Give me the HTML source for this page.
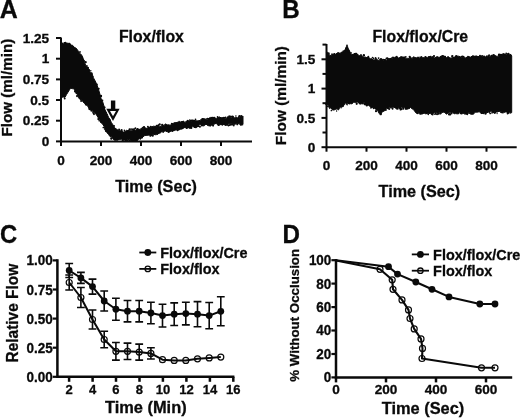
<!DOCTYPE html>
<html><head><meta charset="utf-8"><title>Figure</title>
<style>html,body{margin:0;padding:0;background:#fff}svg{display:block}text{font-family:'Liberation Sans',sans-serif;font-weight:bold;fill:#0a0a0a;stroke:#0a0a0a;stroke-width:0.3px}</style>
</head><body>
<svg width="520" height="418" viewBox="0 0 520 418">
<rect width="520" height="418" fill="#fff"/>
<text transform="translate(-0.2 17.8) scale(0.990 1)" font-size="25.2" text-anchor="start">A</text>
<text transform="translate(282.3 17.6) scale(0.960 1)" font-size="25.2" text-anchor="start">B</text>
<text transform="translate(0.0 242.9) scale(0.940 1)" font-size="25.3" text-anchor="start">C</text>
<text transform="translate(282.4 243.3) scale(0.960 1)" font-size="25.2" text-anchor="start">D</text>
<g stroke="#0a0a0a" stroke-width="2" fill="none">
<path d="M61.0 37.4 V141.4 H252.0"/>
<path d="M56.0 141.4 H61.0"/>
<path d="M56.0 120.7 H61.0"/>
<path d="M56.0 100.0 H61.0"/>
<path d="M56.0 79.4 H61.0"/>
<path d="M56.0 58.7 H61.0"/>
<path d="M56.0 38.0 H61.0"/>
<path d="M61.0 141.4 V145.9"/>
<path d="M101.0 141.4 V145.9"/>
<path d="M141.0 141.4 V145.9"/>
<path d="M181.0 141.4 V145.9"/>
<path d="M221.0 141.4 V145.9"/>
</g>
<text x="49.2" y="145.9" font-size="13.6" text-anchor="end">0</text>
<text x="49.2" y="125.2" font-size="13.6" text-anchor="end">0.25</text>
<text x="49.2" y="104.5" font-size="13.6" text-anchor="end">0.5</text>
<text x="49.2" y="83.9" font-size="13.6" text-anchor="end">0.75</text>
<text x="49.2" y="63.2" font-size="13.6" text-anchor="end">1</text>
<text x="49.2" y="42.5" font-size="13.6" text-anchor="end">1.25</text>
<text x="61.0" y="164.6" font-size="13.6" text-anchor="middle">0</text>
<text x="101.0" y="164.6" font-size="13.6" text-anchor="middle">200</text>
<text x="141.0" y="164.6" font-size="13.6" text-anchor="middle">400</text>
<text x="181.0" y="164.6" font-size="13.6" text-anchor="middle">600</text>
<text x="221.0" y="164.6" font-size="13.6" text-anchor="middle">800</text>
<text x="156.0" y="191.8" font-size="16.2" text-anchor="middle">Time (Sec)</text>
<text x="151.4" y="42.3" font-size="15.8" text-anchor="middle">Flox/flox</text>
<text x="12.2" y="87.6" font-size="15.2" text-anchor="middle" transform="rotate(-90 12.2 87.6)">Flow (ml/min)</text>
<polygon points="60.5,46.0 62.0,44.1 63.5,44.1 65.0,42.4 66.5,43.0 68.0,43.3 69.5,43.4 71.0,45.1 72.5,45.2 74.0,47.2 75.5,47.7 77.0,49.2 78.5,51.4 80.0,53.8 81.5,54.7 83.0,58.1 84.5,62.2 86.0,66.2 87.5,67.7 89.0,69.6 90.5,73.1 92.0,73.3 93.5,78.4 95.0,80.6 96.5,83.8 98.0,87.8 99.5,92.7 101.0,98.3 102.5,101.2 104.0,106.1 105.5,110.3 107.0,113.5 108.5,117.2 110.0,119.4 111.5,122.7 113.0,124.9 114.5,127.6 116.0,128.8 117.5,129.7 119.0,130.6 120.5,130.7 122.0,130.7 123.5,132.1 125.0,131.6 126.5,130.3 128.0,130.8 129.5,130.4 131.0,130.9 132.5,130.4 134.0,129.2 135.5,130.6 137.0,128.5 138.5,129.0 140.0,129.5 141.5,128.0 143.0,128.5 144.5,127.2 146.0,128.3 147.5,128.3 149.0,127.6 150.5,128.0 152.0,126.4 153.5,127.0 155.0,126.5 156.5,126.3 158.0,125.8 159.5,126.4 161.0,126.4 162.5,125.2 164.0,125.4 165.5,123.8 167.0,125.0 168.5,124.7 170.0,125.2 171.5,124.6 173.0,123.2 174.5,123.2 176.0,123.6 177.5,122.0 179.0,122.8 180.5,121.9 182.0,121.6 183.5,121.2 185.0,122.5 186.5,120.9 188.0,120.9 189.5,121.0 191.0,121.8 192.5,119.9 194.0,120.5 195.5,120.5 197.0,121.0 198.5,120.6 200.0,120.5 201.5,118.9 203.0,119.0 204.5,118.7 206.0,119.7 207.5,119.8 209.0,117.9 210.5,117.9 212.0,117.9 213.5,117.8 215.0,118.3 216.5,118.4 218.0,117.6 219.5,116.9 221.0,117.8 222.5,117.6 224.0,117.9 225.5,118.7 227.0,118.0 228.5,117.5 230.0,117.6 231.5,117.7 233.0,116.2 234.5,117.9 236.0,117.6 237.5,117.7 239.0,117.4 240.5,116.5 242.0,116.6 243.0,116.0 243.0,124.2 242.0,124.0 240.5,125.2 239.0,123.5 237.5,124.1 236.0,123.8 234.5,124.5 233.0,123.7 231.5,123.8 230.0,123.8 228.5,123.7 227.0,125.0 225.5,125.1 224.0,124.2 222.5,125.3 221.0,124.5 219.5,124.8 218.0,125.5 216.5,123.4 215.0,123.7 213.5,124.7 212.0,124.3 210.5,125.0 209.0,125.8 207.5,125.5 206.0,124.0 204.5,125.6 203.0,126.0 201.5,124.6 200.0,124.8 198.5,125.1 197.0,126.6 195.5,127.3 194.0,126.3 192.5,126.6 191.0,128.1 189.5,127.9 188.0,127.2 186.5,128.4 185.0,127.3 183.5,128.2 182.0,129.0 180.5,129.3 179.0,129.9 177.5,129.7 176.0,128.7 174.5,130.6 173.0,130.5 171.5,130.5 170.0,131.5 168.5,132.0 167.0,131.7 165.5,131.0 164.0,131.3 162.5,131.7 161.0,132.0 159.5,132.6 158.0,134.2 156.5,134.6 155.0,134.8 153.5,134.1 152.0,135.6 150.5,135.5 149.0,135.0 147.5,135.4 146.0,135.3 144.5,135.7 143.0,136.8 141.5,137.7 140.0,137.7 138.5,139.4 137.0,140.2 135.5,140.8 134.0,141.0 132.5,141.2 131.0,140.8 129.5,139.4 128.0,139.6 126.5,140.5 125.0,139.9 123.5,140.4 122.0,139.1 120.5,139.5 119.0,139.3 117.5,140.1 116.0,140.2 114.5,140.2 113.0,138.9 111.5,136.7 110.0,136.6 108.5,134.4 107.0,132.7 105.5,130.9 104.0,126.3 102.5,123.9 101.0,122.7 99.5,119.4 98.0,117.4 96.5,114.9 95.0,113.1 93.5,112.3 92.0,110.6 90.5,110.2 89.0,108.6 87.5,105.7 86.0,105.0 84.5,103.5 83.0,101.8 81.5,100.0 80.0,99.5 78.5,97.7 77.0,93.6 75.5,91.8 74.0,88.8 72.5,88.7 71.0,88.2 69.5,89.7 68.0,92.2 66.5,94.6 65.0,97.3 63.5,97.1 62.0,97.2 60.5,98.6" fill="#0a0a0a" stroke="#0a0a0a" stroke-width="1" stroke-linejoin="round"/>
<path d="M61.8 43.9m-0.95 0a0.95 0.95 0 1 0 1.90 0a0.95 0.95 0 1 0 -1.90 0M62.6 43.4m-0.79 0a0.79 0.79 0 1 0 1.58 0a0.79 0.79 0 1 0 -1.58 0M64.5 43.0m-1.06 0a1.06 1.06 0 1 0 2.13 0a1.06 1.06 0 1 0 -2.13 0M64.7 98.6m-0.98 0a0.98 0.98 0 1 0 1.96 0a0.98 0.98 0 1 0 -1.96 0M65.5 42.5m-0.82 0a0.82 0.82 0 1 0 1.65 0a0.82 0.82 0 1 0 -1.65 0M69.6 43.7m-0.95 0a0.95 0.95 0 1 0 1.91 0a0.95 0.95 0 1 0 -1.91 0M75.1 91.3m-1.17 0a1.17 1.17 0 1 0 2.34 0a1.17 1.17 0 1 0 -2.34 0M75.7 49.2m-0.92 0a0.92 0.92 0 1 0 1.84 0a0.92 0.92 0 1 0 -1.84 0M76.4 93.1m-1.03 0a1.03 1.03 0 1 0 2.07 0a1.03 1.03 0 1 0 -2.07 0M77.0 96.1m-1.03 0a1.03 1.03 0 1 0 2.06 0a1.03 1.03 0 1 0 -2.06 0M80.0 51.9m-0.90 0a0.90 0.90 0 1 0 1.80 0a0.90 0.90 0 1 0 -1.80 0M81.1 101.0m-0.96 0a0.96 0.96 0 1 0 1.92 0a0.96 0.96 0 1 0 -1.92 0M82.1 57.6m-1.06 0a1.06 1.06 0 1 0 2.12 0a1.06 1.06 0 1 0 -2.12 0M84.0 60.8m-0.87 0a0.87 0.87 0 1 0 1.73 0a0.87 0.87 0 1 0 -1.73 0M85.7 62.2m-1.09 0a1.09 1.09 0 1 0 2.19 0a1.09 1.09 0 1 0 -2.19 0M85.5 104.7m-0.72 0a0.72 0.72 0 1 0 1.44 0a0.72 0.72 0 1 0 -1.44 0M86.9 66.0m-0.91 0a0.91 0.91 0 1 0 1.82 0a0.91 0.91 0 1 0 -1.82 0M87.9 68.0m-1.16 0a1.16 1.16 0 1 0 2.32 0a1.16 1.16 0 1 0 -2.32 0M89.0 70.1m-1.04 0a1.04 1.04 0 1 0 2.09 0a1.04 1.04 0 1 0 -2.09 0M89.4 109.1m-1.02 0a1.02 1.02 0 1 0 2.03 0a1.02 1.02 0 1 0 -2.03 0M90.8 70.8m-0.73 0a0.73 0.73 0 1 0 1.47 0a0.73 0.73 0 1 0 -1.47 0M91.5 73.3m-1.16 0a1.16 1.16 0 1 0 2.33 0a1.16 1.16 0 1 0 -2.33 0M91.3 110.9m-0.82 0a0.82 0.82 0 1 0 1.64 0a0.82 0.82 0 1 0 -1.64 0M92.8 76.5m-0.80 0a0.80 0.80 0 1 0 1.60 0a0.80 0.80 0 1 0 -1.60 0M93.0 112.7m-0.84 0a0.84 0.84 0 1 0 1.69 0a0.84 0.84 0 1 0 -1.69 0M94.1 79.1m-0.71 0a0.71 0.71 0 1 0 1.42 0a0.71 0.71 0 1 0 -1.42 0M94.0 114.1m-0.98 0a0.98 0.98 0 1 0 1.95 0a0.98 0.98 0 1 0 -1.95 0M96.9 84.4m-0.92 0a0.92 0.92 0 1 0 1.83 0a0.92 0.92 0 1 0 -1.83 0M98.7 88.7m-1.04 0a1.04 1.04 0 1 0 2.09 0a1.04 1.04 0 1 0 -2.09 0M98.3 119.1m-1.05 0a1.05 1.05 0 1 0 2.11 0a1.05 1.05 0 1 0 -2.11 0M99.1 92.8m-0.73 0a0.73 0.73 0 1 0 1.45 0a0.73 0.73 0 1 0 -1.45 0M99.2 120.8m-0.83 0a0.83 0.83 0 1 0 1.66 0a0.83 0.83 0 1 0 -1.66 0M101.0 96.0m-1.14 0a1.14 1.14 0 1 0 2.27 0a1.14 1.14 0 1 0 -2.27 0M100.8 121.9m-0.85 0a0.85 0.85 0 1 0 1.69 0a0.85 0.85 0 1 0 -1.69 0M102.6 100.3m-0.83 0a0.83 0.83 0 1 0 1.66 0a0.83 0.83 0 1 0 -1.66 0M103.3 127.5m-0.85 0a0.85 0.85 0 1 0 1.71 0a0.85 0.85 0 1 0 -1.71 0M104.7 107.5m-0.94 0a0.94 0.94 0 1 0 1.87 0a0.94 0.94 0 1 0 -1.87 0M104.5 129.1m-0.70 0a0.70 0.70 0 1 0 1.40 0a0.70 0.70 0 1 0 -1.40 0M105.5 111.0m-0.72 0a0.72 0.72 0 1 0 1.44 0a0.72 0.72 0 1 0 -1.44 0M106.0 131.0m-0.99 0a0.99 0.99 0 1 0 1.99 0a0.99 0.99 0 1 0 -1.99 0M109.5 119.9m-1.19 0a1.19 1.19 0 1 0 2.38 0a1.19 1.19 0 1 0 -2.38 0M111.3 138.6m-1.15 0a1.15 1.15 0 1 0 2.29 0a1.15 1.15 0 1 0 -2.29 0M114.1 125.9m-0.95 0a0.95 0.95 0 1 0 1.90 0a0.95 0.95 0 1 0 -1.90 0M117.6 139.6m-0.77 0a0.77 0.77 0 1 0 1.53 0a0.77 0.77 0 1 0 -1.53 0M119.1 129.4m-0.98 0a0.98 0.98 0 1 0 1.96 0a0.98 0.98 0 1 0 -1.96 0M121.6 130.1m-1.07 0a1.07 1.07 0 1 0 2.15 0a1.07 1.07 0 1 0 -2.15 0M122.5 140.7m-0.83 0a0.83 0.83 0 1 0 1.65 0a0.83 0.83 0 1 0 -1.65 0M124.4 130.4m-0.80 0a0.80 0.80 0 1 0 1.61 0a0.80 0.80 0 1 0 -1.61 0M125.8 140.3m-1.04 0a1.04 1.04 0 1 0 2.08 0a1.04 1.04 0 1 0 -2.08 0M128.3 130.6m-0.83 0a0.83 0.83 0 1 0 1.65 0a0.83 0.83 0 1 0 -1.65 0M127.7 140.6m-0.71 0a0.71 0.71 0 1 0 1.41 0a0.71 0.71 0 1 0 -1.41 0M129.6 129.5m-1.05 0a1.05 1.05 0 1 0 2.09 0a1.05 1.05 0 1 0 -2.09 0M129.4 140.6m-0.93 0a0.93 0.93 0 1 0 1.86 0a0.93 0.93 0 1 0 -1.86 0M131.2 129.0m-0.80 0a0.80 0.80 0 1 0 1.60 0a0.80 0.80 0 1 0 -1.60 0M132.5 129.5m-1.11 0a1.11 1.11 0 1 0 2.22 0a1.11 1.11 0 1 0 -2.22 0M132.4 140.4m-0.80 0a0.80 0.80 0 1 0 1.61 0a0.80 0.80 0 1 0 -1.61 0M133.3 129.1m-0.77 0a0.77 0.77 0 1 0 1.54 0a0.77 0.77 0 1 0 -1.54 0M135.0 128.6m-0.95 0a0.95 0.95 0 1 0 1.91 0a0.95 0.95 0 1 0 -1.91 0M135.4 128.3m-0.94 0a0.94 0.94 0 1 0 1.89 0a0.94 0.94 0 1 0 -1.89 0M135.7 140.5m-0.93 0a0.93 0.93 0 1 0 1.85 0a0.93 0.93 0 1 0 -1.85 0M137.5 129.0m-0.86 0a0.86 0.86 0 1 0 1.72 0a0.86 0.86 0 1 0 -1.72 0M136.8 140.3m-1.12 0a1.12 1.12 0 1 0 2.24 0a1.12 1.12 0 1 0 -2.24 0M140.3 138.7m-0.90 0a0.90 0.90 0 1 0 1.79 0a0.90 0.90 0 1 0 -1.79 0M140.6 138.3m-0.84 0a0.84 0.84 0 1 0 1.68 0a0.84 0.84 0 1 0 -1.68 0M142.8 127.6m-0.84 0a0.84 0.84 0 1 0 1.69 0a0.84 0.84 0 1 0 -1.69 0M142.1 137.5m-0.96 0a0.96 0.96 0 1 0 1.91 0a0.96 0.96 0 1 0 -1.91 0M144.0 127.2m-1.14 0a1.14 1.14 0 1 0 2.28 0a1.14 1.14 0 1 0 -2.28 0M147.9 126.8m-0.93 0a0.93 0.93 0 1 0 1.85 0a0.93 0.93 0 1 0 -1.85 0M148.5 127.6m-1.16 0a1.16 1.16 0 1 0 2.33 0a1.16 1.16 0 1 0 -2.33 0M150.7 126.9m-1.07 0a1.07 1.07 0 1 0 2.14 0a1.07 1.07 0 1 0 -2.14 0M150.3 135.9m-0.85 0a0.85 0.85 0 1 0 1.70 0a0.85 0.85 0 1 0 -1.70 0M151.2 126.9m-0.78 0a0.78 0.78 0 1 0 1.56 0a0.78 0.78 0 1 0 -1.56 0M152.7 135.6m-1.20 0a1.20 1.20 0 1 0 2.40 0a1.20 1.20 0 1 0 -2.40 0M153.9 126.4m-0.75 0a0.75 0.75 0 1 0 1.49 0a0.75 0.75 0 1 0 -1.49 0M154.2 134.2m-0.83 0a0.83 0.83 0 1 0 1.66 0a0.83 0.83 0 1 0 -1.66 0M156.6 125.6m-0.96 0a0.96 0.96 0 1 0 1.92 0a0.96 0.96 0 1 0 -1.92 0M157.2 133.4m-0.84 0a0.84 0.84 0 1 0 1.68 0a0.84 0.84 0 1 0 -1.68 0M158.4 125.3m-1.01 0a1.01 1.01 0 1 0 2.03 0a1.01 1.01 0 1 0 -2.03 0M157.9 133.4m-0.82 0a0.82 0.82 0 1 0 1.65 0a0.82 0.82 0 1 0 -1.65 0M159.7 124.4m-1.12 0a1.12 1.12 0 1 0 2.25 0a1.12 1.12 0 1 0 -2.25 0M159.7 132.8m-1.05 0a1.05 1.05 0 1 0 2.11 0a1.05 1.05 0 1 0 -2.11 0M162.2 124.9m-1.16 0a1.16 1.16 0 1 0 2.33 0a1.16 1.16 0 1 0 -2.33 0M163.2 132.1m-0.78 0a0.78 0.78 0 1 0 1.55 0a0.78 0.78 0 1 0 -1.55 0M168.8 132.1m-0.82 0a0.82 0.82 0 1 0 1.63 0a0.82 0.82 0 1 0 -1.63 0M169.8 130.9m-0.83 0a0.83 0.83 0 1 0 1.65 0a0.83 0.83 0 1 0 -1.65 0M171.1 130.5m-0.96 0a0.96 0.96 0 1 0 1.92 0a0.96 0.96 0 1 0 -1.92 0M171.8 123.7m-1.00 0a1.00 1.00 0 1 0 2.00 0a1.00 1.00 0 1 0 -2.00 0M172.4 130.8m-1.18 0a1.18 1.18 0 1 0 2.36 0a1.18 1.18 0 1 0 -2.36 0M175.1 123.3m-1.18 0a1.18 1.18 0 1 0 2.36 0a1.18 1.18 0 1 0 -2.36 0M175.1 129.7m-0.95 0a0.95 0.95 0 1 0 1.90 0a0.95 0.95 0 1 0 -1.90 0M176.6 123.1m-1.03 0a1.03 1.03 0 1 0 2.07 0a1.03 1.03 0 1 0 -2.07 0M176.1 129.4m-0.87 0a0.87 0.87 0 1 0 1.74 0a0.87 0.87 0 1 0 -1.74 0M177.5 130.3m-1.07 0a1.07 1.07 0 1 0 2.14 0a1.07 1.07 0 1 0 -2.14 0M179.1 121.6m-0.86 0a0.86 0.86 0 1 0 1.71 0a0.86 0.86 0 1 0 -1.71 0M178.6 129.2m-1.08 0a1.08 1.08 0 1 0 2.16 0a1.08 1.08 0 1 0 -2.16 0M181.6 122.4m-0.91 0a0.91 0.91 0 1 0 1.82 0a0.91 0.91 0 1 0 -1.82 0M183.2 121.9m-0.81 0a0.81 0.81 0 1 0 1.61 0a0.81 0.81 0 1 0 -1.61 0M182.6 128.2m-0.73 0a0.73 0.73 0 1 0 1.46 0a0.73 0.73 0 1 0 -1.46 0M186.8 127.8m-1.17 0a1.17 1.17 0 1 0 2.34 0a1.17 1.17 0 1 0 -2.34 0M187.8 120.7m-0.89 0a0.89 0.89 0 1 0 1.78 0a0.89 0.89 0 1 0 -1.78 0M187.7 127.6m-0.70 0a0.70 0.70 0 1 0 1.40 0a0.70 0.70 0 1 0 -1.40 0M189.7 120.1m-0.76 0a0.76 0.76 0 1 0 1.52 0a0.76 0.76 0 1 0 -1.52 0M189.5 127.7m-1.11 0a1.11 1.11 0 1 0 2.22 0a1.11 1.11 0 1 0 -2.22 0M190.4 121.2m-0.94 0a0.94 0.94 0 1 0 1.87 0a0.94 0.94 0 1 0 -1.87 0M191.3 120.6m-1.15 0a1.15 1.15 0 1 0 2.30 0a1.15 1.15 0 1 0 -2.30 0M191.3 127.9m-1.08 0a1.08 1.08 0 1 0 2.17 0a1.08 1.08 0 1 0 -2.17 0M192.9 120.8m-1.16 0a1.16 1.16 0 1 0 2.32 0a1.16 1.16 0 1 0 -2.32 0M194.5 126.7m-1.18 0a1.18 1.18 0 1 0 2.36 0a1.18 1.18 0 1 0 -2.36 0M195.5 119.4m-0.86 0a0.86 0.86 0 1 0 1.72 0a0.86 0.86 0 1 0 -1.72 0M195.8 127.2m-1.16 0a1.16 1.16 0 1 0 2.32 0a1.16 1.16 0 1 0 -2.32 0M197.5 126.2m-0.94 0a0.94 0.94 0 1 0 1.88 0a0.94 0.94 0 1 0 -1.88 0M198.3 126.0m-0.91 0a0.91 0.91 0 1 0 1.83 0a0.91 0.91 0 1 0 -1.83 0M199.9 126.7m-1.07 0a1.07 1.07 0 1 0 2.14 0a1.07 1.07 0 1 0 -2.14 0M202.5 119.0m-0.88 0a0.88 0.88 0 1 0 1.76 0a0.88 0.88 0 1 0 -1.76 0M201.9 125.3m-1.08 0a1.08 1.08 0 1 0 2.15 0a1.08 1.08 0 1 0 -2.15 0M203.3 119.3m-0.98 0a0.98 0.98 0 1 0 1.95 0a0.98 0.98 0 1 0 -1.95 0M206.1 118.9m-0.75 0a0.75 0.75 0 1 0 1.50 0a0.75 0.75 0 1 0 -1.50 0M207.5 118.6m-0.91 0a0.91 0.91 0 1 0 1.82 0a0.91 0.91 0 1 0 -1.82 0M210.1 125.7m-0.85 0a0.85 0.85 0 1 0 1.69 0a0.85 0.85 0 1 0 -1.69 0M211.0 117.6m-0.80 0a0.80 0.80 0 1 0 1.60 0a0.80 0.80 0 1 0 -1.60 0M211.4 124.7m-1.14 0a1.14 1.14 0 1 0 2.28 0a1.14 1.14 0 1 0 -2.28 0M212.6 118.0m-1.20 0a1.20 1.20 0 1 0 2.39 0a1.20 1.20 0 1 0 -2.39 0M213.1 125.6m-1.03 0a1.03 1.03 0 1 0 2.05 0a1.03 1.03 0 1 0 -2.05 0M214.2 117.9m-1.11 0a1.11 1.11 0 1 0 2.22 0a1.11 1.11 0 1 0 -2.22 0M214.9 118.0m-0.76 0a0.76 0.76 0 1 0 1.52 0a0.76 0.76 0 1 0 -1.52 0M217.6 117.0m-0.92 0a0.92 0.92 0 1 0 1.85 0a0.92 0.92 0 1 0 -1.85 0M218.8 125.1m-1.01 0a1.01 1.01 0 1 0 2.02 0a1.01 1.01 0 1 0 -2.02 0M220.2 118.0m-0.80 0a0.80 0.80 0 1 0 1.60 0a0.80 0.80 0 1 0 -1.60 0M221.9 124.2m-0.86 0a0.86 0.86 0 1 0 1.73 0a0.86 0.86 0 1 0 -1.73 0M223.3 117.6m-0.80 0a0.80 0.80 0 1 0 1.60 0a0.80 0.80 0 1 0 -1.60 0M224.4 117.8m-0.90 0a0.90 0.90 0 1 0 1.80 0a0.90 0.90 0 1 0 -1.80 0M225.5 117.6m-1.05 0a1.05 1.05 0 1 0 2.10 0a1.05 1.05 0 1 0 -2.10 0M225.4 124.6m-1.18 0a1.18 1.18 0 1 0 2.35 0a1.18 1.18 0 1 0 -2.35 0M227.4 124.7m-1.13 0a1.13 1.13 0 1 0 2.26 0a1.13 1.13 0 1 0 -2.26 0M227.9 117.4m-1.06 0a1.06 1.06 0 1 0 2.13 0a1.06 1.06 0 1 0 -2.13 0M228.5 125.5m-0.91 0a0.91 0.91 0 1 0 1.82 0a0.91 0.91 0 1 0 -1.82 0M229.2 116.3m-0.93 0a0.93 0.93 0 1 0 1.86 0a0.93 0.93 0 1 0 -1.86 0M229.9 124.9m-1.02 0a1.02 1.02 0 1 0 2.04 0a1.02 1.02 0 1 0 -2.04 0M230.8 116.6m-0.89 0a0.89 0.89 0 1 0 1.77 0a0.89 0.89 0 1 0 -1.77 0M231.2 124.5m-0.96 0a0.96 0.96 0 1 0 1.92 0a0.96 0.96 0 1 0 -1.92 0M232.6 116.7m-1.10 0a1.10 1.10 0 1 0 2.20 0a1.10 1.10 0 1 0 -2.20 0M232.6 124.3m-1.17 0a1.17 1.17 0 1 0 2.34 0a1.17 1.17 0 1 0 -2.34 0M233.8 125.5m-0.89 0a0.89 0.89 0 1 0 1.79 0a0.89 0.89 0 1 0 -1.79 0M235.9 116.0m-0.81 0a0.81 0.81 0 1 0 1.62 0a0.81 0.81 0 1 0 -1.62 0M237.3 124.4m-0.90 0a0.90 0.90 0 1 0 1.80 0a0.90 0.90 0 1 0 -1.80 0M238.8 116.8m-0.82 0a0.82 0.82 0 1 0 1.65 0a0.82 0.82 0 1 0 -1.65 0M239.4 116.1m-1.08 0a1.08 1.08 0 1 0 2.16 0a1.08 1.08 0 1 0 -2.16 0M241.3 116.1m-0.98 0a0.98 0.98 0 1 0 1.95 0a0.98 0.98 0 1 0 -1.95 0M241.1 124.7m-0.99 0a0.99 0.99 0 1 0 1.98 0a0.99 0.99 0 1 0 -1.98 0M242.6 124.8m-0.71 0a0.71 0.71 0 1 0 1.42 0a0.71 0.71 0 1 0 -1.42 0" fill="#0a0a0a"/>
<path d="M106.3 108.7 H119.6 L113 120.9 Z" fill="#fff" stroke="#fff" stroke-width="2.2" stroke-linejoin="round"/>
<rect x="110.9" y="100.5" width="4.4" height="9" fill="#0a0a0a"/>
<path d="M106.3 108.7 H119.6 L113 120.9 Z" fill="#0a0a0a"/>
<path d="M110 110.9 H116 L113 116.2 Z" fill="#fff"/>
<g stroke="#0a0a0a" stroke-width="2" fill="none">
<path d="M326.5 44.1 V147.2 H516.7"/>
<path d="M321.5 147.2 H326.5"/>
<path d="M322.5 132.5 H326.5"/>
<path d="M321.5 117.9 H326.5"/>
<path d="M322.5 103.2 H326.5"/>
<path d="M321.5 88.6 H326.5"/>
<path d="M322.5 73.9 H326.5"/>
<path d="M321.5 59.3 H326.5"/>
<path d="M322.5 44.6 H326.5"/>
<path d="M326.5 147.2 V151.7"/>
<path d="M366.5 147.2 V151.7"/>
<path d="M406.5 147.2 V151.7"/>
<path d="M446.5 147.2 V151.7"/>
<path d="M486.5 147.2 V151.7"/>
</g>
<text x="315.3" y="152.0" font-size="13.6" text-anchor="end">0</text>
<text x="315.3" y="122.7" font-size="13.6" text-anchor="end">0.5</text>
<text x="315.3" y="93.4" font-size="13.6" text-anchor="end">1</text>
<text x="315.3" y="64.1" font-size="13.6" text-anchor="end">1.5</text>
<text x="326.5" y="169.5" font-size="13.6" text-anchor="middle">0</text>
<text x="366.5" y="169.5" font-size="13.6" text-anchor="middle">200</text>
<text x="406.5" y="169.5" font-size="13.6" text-anchor="middle">400</text>
<text x="446.5" y="169.5" font-size="13.6" text-anchor="middle">600</text>
<text x="486.5" y="169.5" font-size="13.6" text-anchor="middle">800</text>
<text x="419.4" y="197.4" font-size="16.2" text-anchor="middle">Time (Sec)</text>
<text x="420.3" y="42.4" font-size="15.8" text-anchor="middle">Flox/flox/Cre</text>
<text x="286.1" y="95.6" font-size="15.4" text-anchor="middle" transform="rotate(-90 286.1 95.6)">Flow (ml/min)</text>
<polygon points="326.5,52.9 328.0,53.1 329.5,55.2 331.0,55.5 332.5,54.5 334.0,53.7 335.5,54.3 337.0,53.3 338.5,53.2 340.0,53.7 341.5,52.0 343.0,52.0 344.5,51.2 346.0,47.3 347.5,47.5 349.0,49.9 350.5,53.0 352.0,54.6 353.5,54.1 355.0,53.2 356.5,54.5 358.0,54.4 359.5,55.9 361.0,54.3 362.5,56.5 364.0,57.3 365.5,57.1 367.0,57.8 368.5,56.8 370.0,59.1 371.5,58.4 373.0,60.0 374.5,60.0 376.0,58.3 377.5,60.0 379.0,60.4 380.5,58.5 382.0,59.3 383.5,60.4 385.0,59.1 386.5,60.6 388.0,58.8 389.5,59.8 391.0,57.8 392.5,58.4 394.0,59.1 395.5,57.2 397.0,57.3 398.5,57.9 400.0,57.5 401.5,56.8 403.0,57.1 404.5,57.1 406.0,58.9 407.5,58.3 409.0,58.8 410.5,57.1 412.0,58.5 413.5,56.7 415.0,57.6 416.5,57.8 418.0,57.0 419.5,58.2 421.0,57.3 422.5,57.3 424.0,57.9 425.5,56.0 427.0,58.1 428.5,57.2 430.0,56.6 431.5,57.6 433.0,56.3 434.5,58.1 436.0,57.1 437.5,56.6 439.0,57.5 440.5,56.8 442.0,56.2 443.5,57.6 445.0,55.9 446.5,57.8 448.0,56.5 449.5,57.5 451.0,58.3 452.5,57.4 454.0,57.6 455.5,56.8 457.0,56.1 458.5,56.2 460.0,56.6 461.5,57.6 463.0,57.2 464.5,57.3 466.0,58.2 467.5,56.3 469.0,56.5 470.5,57.5 472.0,56.0 473.5,55.9 475.0,56.7 476.5,56.0 478.0,56.6 479.5,56.3 481.0,57.0 482.5,56.9 484.0,55.9 485.5,56.8 487.0,56.4 488.5,55.5 490.0,57.3 491.5,55.5 493.0,55.2 494.5,55.0 496.0,56.1 497.5,56.4 499.0,56.0 500.5,54.8 502.0,54.3 503.5,53.5 505.0,54.7 506.5,54.4 508.0,53.7 509.5,54.4 511.0,54.5 511.7,55.9 511.7,112.6 511.0,113.1 509.5,112.3 508.0,113.4 506.5,111.9 505.0,112.0 503.5,112.8 502.0,111.8 500.5,111.7 499.0,111.2 497.5,112.1 496.0,111.9 494.5,111.6 493.0,112.9 491.5,111.3 490.0,111.3 488.5,111.9 487.0,112.8 485.5,113.3 484.0,112.9 482.5,113.4 481.0,113.6 479.5,111.7 478.0,112.0 476.5,112.3 475.0,112.1 473.5,114.2 472.0,114.2 470.5,114.2 469.0,112.3 467.5,114.2 466.0,114.1 464.5,114.1 463.0,113.0 461.5,113.5 460.0,112.3 458.5,113.9 457.0,113.8 455.5,113.6 454.0,113.8 452.5,112.2 451.0,112.2 449.5,112.4 448.0,112.9 446.5,114.3 445.0,112.4 443.5,112.2 442.0,112.4 440.5,114.3 439.0,112.3 437.5,113.6 436.0,112.6 434.5,112.8 433.0,113.5 431.5,113.8 430.0,113.1 428.5,114.1 427.0,113.6 425.5,113.8 424.0,112.8 422.5,113.9 421.0,113.1 419.5,113.1 418.0,112.8 416.5,113.4 415.0,111.7 413.5,109.6 412.0,108.7 410.5,107.4 409.0,108.5 407.5,109.1 406.0,108.6 404.5,107.5 403.0,107.6 401.5,107.1 400.0,109.2 398.5,107.5 397.0,109.1 395.5,108.2 394.0,107.1 392.5,107.6 391.0,108.1 389.5,107.4 388.0,108.3 386.5,108.2 385.0,110.0 383.5,110.9 382.0,112.4 380.5,115.1 379.0,113.2 377.5,110.3 376.0,109.7 374.5,108.2 373.0,107.4 371.5,106.9 370.0,106.7 368.5,105.2 367.0,105.0 365.5,104.4 364.0,102.1 362.5,103.7 361.0,103.8 359.5,104.0 358.0,101.9 356.5,102.4 355.0,102.3 353.5,102.2 352.0,103.9 350.5,103.6 349.0,103.4 347.5,103.8 346.0,103.0 344.5,103.4 343.0,106.6 341.5,106.9 340.0,106.9 338.5,110.0 337.0,108.8 335.5,109.4 334.0,110.0 332.5,110.0 331.0,107.7 329.5,108.6 328.0,105.1 326.5,103.9" fill="#0a0a0a" stroke="#0a0a0a" stroke-width="1" stroke-linejoin="round"/>
<path d="M326.8 52.5m-0.92 0a0.92 0.92 0 1 0 1.84 0a0.92 0.92 0 1 0 -1.84 0M326.2 104.2m-0.97 0a0.97 0.97 0 1 0 1.94 0a0.97 0.97 0 1 0 -1.94 0M327.3 106.4m-0.79 0a0.79 0.79 0 1 0 1.57 0a0.79 0.79 0 1 0 -1.57 0M328.6 53.4m-1.19 0a1.19 1.19 0 1 0 2.38 0a1.19 1.19 0 1 0 -2.38 0M332.0 54.2m-0.87 0a0.87 0.87 0 1 0 1.75 0a0.87 0.87 0 1 0 -1.75 0M331.4 110.5m-0.84 0a0.84 0.84 0 1 0 1.68 0a0.84 0.84 0 1 0 -1.68 0M334.6 53.7m-0.74 0a0.74 0.74 0 1 0 1.48 0a0.74 0.74 0 1 0 -1.48 0M337.3 53.8m-0.90 0a0.90 0.90 0 1 0 1.79 0a0.90 0.90 0 1 0 -1.79 0M336.6 111.0m-0.71 0a0.71 0.71 0 1 0 1.43 0a0.71 0.71 0 1 0 -1.43 0M338.1 52.9m-0.95 0a0.95 0.95 0 1 0 1.90 0a0.95 0.95 0 1 0 -1.90 0M339.8 53.5m-0.97 0a0.97 0.97 0 1 0 1.93 0a0.97 0.97 0 1 0 -1.93 0M341.1 107.7m-0.78 0a0.78 0.78 0 1 0 1.56 0a0.78 0.78 0 1 0 -1.56 0M343.5 51.4m-1.09 0a1.09 1.09 0 1 0 2.17 0a1.09 1.09 0 1 0 -2.17 0M343.1 105.7m-1.14 0a1.14 1.14 0 1 0 2.29 0a1.14 1.14 0 1 0 -2.29 0M345.0 50.8m-1.05 0a1.05 1.05 0 1 0 2.10 0a1.05 1.05 0 1 0 -2.10 0M344.5 104.1m-0.82 0a0.82 0.82 0 1 0 1.65 0a0.82 0.82 0 1 0 -1.65 0M346.5 104.0m-0.79 0a0.79 0.79 0 1 0 1.59 0a0.79 0.79 0 1 0 -1.59 0M347.2 104.8m-0.75 0a0.75 0.75 0 1 0 1.50 0a0.75 0.75 0 1 0 -1.50 0M349.5 103.4m-1.02 0a1.02 1.02 0 1 0 2.04 0a1.02 1.02 0 1 0 -2.04 0M351.1 52.7m-0.72 0a0.72 0.72 0 1 0 1.43 0a0.72 0.72 0 1 0 -1.43 0M355.3 53.6m-0.90 0a0.90 0.90 0 1 0 1.80 0a0.90 0.90 0 1 0 -1.80 0M356.3 53.8m-1.07 0a1.07 1.07 0 1 0 2.15 0a1.07 1.07 0 1 0 -2.15 0M356.7 103.8m-1.14 0a1.14 1.14 0 1 0 2.28 0a1.14 1.14 0 1 0 -2.28 0M360.2 103.8m-0.75 0a0.75 0.75 0 1 0 1.50 0a0.75 0.75 0 1 0 -1.50 0M363.0 103.6m-0.93 0a0.93 0.93 0 1 0 1.86 0a0.93 0.93 0 1 0 -1.86 0M363.9 55.4m-1.17 0a1.17 1.17 0 1 0 2.33 0a1.17 1.17 0 1 0 -2.33 0M365.0 104.1m-1.19 0a1.19 1.19 0 1 0 2.37 0a1.19 1.19 0 1 0 -2.37 0M366.8 105.3m-1.17 0a1.17 1.17 0 1 0 2.34 0a1.17 1.17 0 1 0 -2.34 0M368.3 56.7m-0.97 0a0.97 0.97 0 1 0 1.94 0a0.97 0.97 0 1 0 -1.94 0M370.9 107.8m-0.81 0a0.81 0.81 0 1 0 1.61 0a0.81 0.81 0 1 0 -1.61 0M372.5 57.6m-0.76 0a0.76 0.76 0 1 0 1.52 0a0.76 0.76 0 1 0 -1.52 0M371.9 107.2m-0.84 0a0.84 0.84 0 1 0 1.67 0a0.84 0.84 0 1 0 -1.67 0M373.5 58.5m-0.91 0a0.91 0.91 0 1 0 1.82 0a0.91 0.91 0 1 0 -1.82 0M373.5 108.5m-0.81 0a0.81 0.81 0 1 0 1.62 0a0.81 0.81 0 1 0 -1.62 0M375.6 58.1m-0.90 0a0.90 0.90 0 1 0 1.79 0a0.90 0.90 0 1 0 -1.79 0M376.0 111.2m-1.10 0a1.10 1.10 0 1 0 2.21 0a1.10 1.10 0 1 0 -2.21 0M378.6 58.1m-0.88 0a0.88 0.88 0 1 0 1.75 0a0.88 0.88 0 1 0 -1.75 0M381.4 59.0m-0.76 0a0.76 0.76 0 1 0 1.53 0a0.76 0.76 0 1 0 -1.53 0M381.0 114.5m-0.83 0a0.83 0.83 0 1 0 1.67 0a0.83 0.83 0 1 0 -1.67 0M381.9 59.2m-0.79 0a0.79 0.79 0 1 0 1.59 0a0.79 0.79 0 1 0 -1.59 0M383.7 59.6m-0.85 0a0.85 0.85 0 1 0 1.70 0a0.85 0.85 0 1 0 -1.70 0M383.6 110.8m-1.03 0a1.03 1.03 0 1 0 2.06 0a1.03 1.03 0 1 0 -2.06 0M386.6 58.6m-1.15 0a1.15 1.15 0 1 0 2.31 0a1.15 1.15 0 1 0 -2.31 0M385.8 109.9m-1.02 0a1.02 1.02 0 1 0 2.03 0a1.02 1.02 0 1 0 -2.03 0M387.4 58.2m-1.03 0a1.03 1.03 0 1 0 2.06 0a1.03 1.03 0 1 0 -2.06 0M387.9 108.3m-0.82 0a0.82 0.82 0 1 0 1.63 0a0.82 0.82 0 1 0 -1.63 0M389.2 59.1m-1.15 0a1.15 1.15 0 1 0 2.30 0a1.15 1.15 0 1 0 -2.30 0M389.2 108.9m-1.00 0a1.00 1.00 0 1 0 2.01 0a1.00 1.00 0 1 0 -2.01 0M393.0 57.5m-0.97 0a0.97 0.97 0 1 0 1.93 0a0.97 0.97 0 1 0 -1.93 0M392.6 108.7m-0.98 0a0.98 0.98 0 1 0 1.96 0a0.98 0.98 0 1 0 -1.96 0M393.7 58.1m-0.95 0a0.95 0.95 0 1 0 1.89 0a0.95 0.95 0 1 0 -1.89 0M395.4 57.4m-0.95 0a0.95 0.95 0 1 0 1.90 0a0.95 0.95 0 1 0 -1.90 0M396.8 56.8m-0.93 0a0.93 0.93 0 1 0 1.87 0a0.93 0.93 0 1 0 -1.87 0M397.6 108.5m-1.18 0a1.18 1.18 0 1 0 2.36 0a1.18 1.18 0 1 0 -2.36 0M401.0 57.2m-1.04 0a1.04 1.04 0 1 0 2.08 0a1.04 1.04 0 1 0 -2.08 0M400.6 109.5m-0.96 0a0.96 0.96 0 1 0 1.91 0a0.96 0.96 0 1 0 -1.91 0M401.7 109.1m-1.01 0a1.01 1.01 0 1 0 2.03 0a1.01 1.01 0 1 0 -2.03 0M403.5 108.7m-0.96 0a0.96 0.96 0 1 0 1.93 0a0.96 0.96 0 1 0 -1.93 0M404.6 57.4m-0.91 0a0.91 0.91 0 1 0 1.82 0a0.91 0.91 0 1 0 -1.82 0M405.8 56.9m-0.90 0a0.90 0.90 0 1 0 1.80 0a0.90 0.90 0 1 0 -1.80 0M406.0 108.6m-1.19 0a1.19 1.19 0 1 0 2.37 0a1.19 1.19 0 1 0 -2.37 0M407.2 108.3m-0.85 0a0.85 0.85 0 1 0 1.70 0a0.85 0.85 0 1 0 -1.70 0M409.7 57.0m-1.14 0a1.14 1.14 0 1 0 2.29 0a1.14 1.14 0 1 0 -2.29 0M409.4 108.1m-0.70 0a0.70 0.70 0 1 0 1.41 0a0.70 0.70 0 1 0 -1.41 0M417.8 113.3m-0.93 0a0.93 0.93 0 1 0 1.86 0a0.93 0.93 0 1 0 -1.86 0M419.1 57.2m-0.72 0a0.72 0.72 0 1 0 1.44 0a0.72 0.72 0 1 0 -1.44 0M420.2 113.7m-1.09 0a1.09 1.09 0 1 0 2.19 0a1.09 1.09 0 1 0 -2.19 0M421.2 56.9m-0.91 0a0.91 0.91 0 1 0 1.82 0a0.91 0.91 0 1 0 -1.82 0M421.0 113.5m-1.17 0a1.17 1.17 0 1 0 2.33 0a1.17 1.17 0 1 0 -2.33 0M422.8 112.8m-1.11 0a1.11 1.11 0 1 0 2.21 0a1.11 1.11 0 1 0 -2.21 0M424.1 112.7m-0.89 0a0.89 0.89 0 1 0 1.79 0a0.89 0.89 0 1 0 -1.79 0M426.3 113.0m-1.02 0a1.02 1.02 0 1 0 2.04 0a1.02 1.02 0 1 0 -2.04 0M428.1 57.1m-0.70 0a0.70 0.70 0 1 0 1.40 0a0.70 0.70 0 1 0 -1.40 0M428.3 114.4m-0.74 0a0.74 0.74 0 1 0 1.49 0a0.74 0.74 0 1 0 -1.49 0M428.9 57.1m-1.06 0a1.06 1.06 0 1 0 2.12 0a1.06 1.06 0 1 0 -2.12 0M430.7 57.0m-1.09 0a1.09 1.09 0 1 0 2.17 0a1.09 1.09 0 1 0 -2.17 0M431.8 114.0m-1.05 0a1.05 1.05 0 1 0 2.11 0a1.05 1.05 0 1 0 -2.11 0M432.6 114.5m-1.06 0a1.06 1.06 0 1 0 2.12 0a1.06 1.06 0 1 0 -2.12 0M434.0 56.1m-1.11 0a1.11 1.11 0 1 0 2.22 0a1.11 1.11 0 1 0 -2.22 0M434.8 114.2m-0.78 0a0.78 0.78 0 1 0 1.57 0a0.78 0.78 0 1 0 -1.57 0M435.6 113.7m-0.99 0a0.99 0.99 0 1 0 1.97 0a0.99 0.99 0 1 0 -1.97 0M437.1 114.3m-0.88 0a0.88 0.88 0 1 0 1.76 0a0.88 0.88 0 1 0 -1.76 0M438.7 113.7m-1.09 0a1.09 1.09 0 1 0 2.19 0a1.09 1.09 0 1 0 -2.19 0M441.1 57.0m-1.19 0a1.19 1.19 0 1 0 2.37 0a1.19 1.19 0 1 0 -2.37 0M442.5 56.2m-1.19 0a1.19 1.19 0 1 0 2.38 0a1.19 1.19 0 1 0 -2.38 0M443.4 56.5m-1.14 0a1.14 1.14 0 1 0 2.29 0a1.14 1.14 0 1 0 -2.29 0M446.0 113.1m-0.83 0a0.83 0.83 0 1 0 1.66 0a0.83 0.83 0 1 0 -1.66 0M449.1 114.3m-1.11 0a1.11 1.11 0 1 0 2.21 0a1.11 1.11 0 1 0 -2.21 0M450.2 114.4m-1.10 0a1.10 1.10 0 1 0 2.21 0a1.10 1.10 0 1 0 -2.21 0M451.6 113.2m-0.98 0a0.98 0.98 0 1 0 1.95 0a0.98 0.98 0 1 0 -1.95 0M452.3 56.3m-1.17 0a1.17 1.17 0 1 0 2.33 0a1.17 1.17 0 1 0 -2.33 0M455.5 57.1m-1.08 0a1.08 1.08 0 1 0 2.15 0a1.08 1.08 0 1 0 -2.15 0M456.2 56.3m-1.09 0a1.09 1.09 0 1 0 2.17 0a1.09 1.09 0 1 0 -2.17 0M460.6 113.4m-0.79 0a0.79 0.79 0 1 0 1.58 0a0.79 0.79 0 1 0 -1.58 0M461.7 56.7m-0.90 0a0.90 0.90 0 1 0 1.80 0a0.90 0.90 0 1 0 -1.80 0M461.6 113.2m-1.20 0a1.20 1.20 0 1 0 2.40 0a1.20 1.20 0 1 0 -2.40 0M462.7 56.6m-1.09 0a1.09 1.09 0 1 0 2.19 0a1.09 1.09 0 1 0 -2.19 0M463.8 56.7m-0.71 0a0.71 0.71 0 1 0 1.42 0a0.71 0.71 0 1 0 -1.42 0M467.3 114.3m-0.91 0a0.91 0.91 0 1 0 1.83 0a0.91 0.91 0 1 0 -1.83 0M469.2 113.2m-0.80 0a0.80 0.80 0 1 0 1.60 0a0.80 0.80 0 1 0 -1.60 0M471.2 57.3m-0.98 0a0.98 0.98 0 1 0 1.96 0a0.98 0.98 0 1 0 -1.96 0M473.0 56.4m-0.90 0a0.90 0.90 0 1 0 1.80 0a0.90 0.90 0 1 0 -1.80 0M475.2 56.4m-1.02 0a1.02 1.02 0 1 0 2.04 0a1.02 1.02 0 1 0 -2.04 0M476.5 56.5m-0.78 0a0.78 0.78 0 1 0 1.56 0a0.78 0.78 0 1 0 -1.56 0M477.2 57.1m-0.83 0a0.83 0.83 0 1 0 1.66 0a0.83 0.83 0 1 0 -1.66 0M480.0 55.9m-1.05 0a1.05 1.05 0 1 0 2.11 0a1.05 1.05 0 1 0 -2.11 0M481.6 56.8m-1.08 0a1.08 1.08 0 1 0 2.15 0a1.08 1.08 0 1 0 -2.15 0M482.1 56.0m-1.08 0a1.08 1.08 0 1 0 2.16 0a1.08 1.08 0 1 0 -2.16 0M482.5 112.9m-0.76 0a0.76 0.76 0 1 0 1.52 0a0.76 0.76 0 1 0 -1.52 0M484.0 56.5m-0.77 0a0.77 0.77 0 1 0 1.54 0a0.77 0.77 0 1 0 -1.54 0M483.3 113.5m-0.80 0a0.80 0.80 0 1 0 1.60 0a0.80 0.80 0 1 0 -1.60 0M485.5 113.7m-1.13 0a1.13 1.13 0 1 0 2.27 0a1.13 1.13 0 1 0 -2.27 0M486.8 56.0m-0.75 0a0.75 0.75 0 1 0 1.50 0a0.75 0.75 0 1 0 -1.50 0M489.1 55.3m-0.94 0a0.94 0.94 0 1 0 1.88 0a0.94 0.94 0 1 0 -1.88 0M489.2 112.5m-0.73 0a0.73 0.73 0 1 0 1.46 0a0.73 0.73 0 1 0 -1.46 0M490.2 113.4m-0.83 0a0.83 0.83 0 1 0 1.67 0a0.83 0.83 0 1 0 -1.67 0M491.4 55.9m-1.12 0a1.12 1.12 0 1 0 2.24 0a1.12 1.12 0 1 0 -2.24 0M492.0 112.8m-0.86 0a0.86 0.86 0 1 0 1.72 0a0.86 0.86 0 1 0 -1.72 0M493.3 54.8m-0.73 0a0.73 0.73 0 1 0 1.46 0a0.73 0.73 0 1 0 -1.46 0M494.0 55.4m-0.84 0a0.84 0.84 0 1 0 1.69 0a0.84 0.84 0 1 0 -1.69 0M494.7 112.6m-1.20 0a1.20 1.20 0 1 0 2.39 0a1.20 1.20 0 1 0 -2.39 0M495.1 112.5m-1.15 0a1.15 1.15 0 1 0 2.30 0a1.15 1.15 0 1 0 -2.30 0M497.1 113.6m-0.71 0a0.71 0.71 0 1 0 1.42 0a0.71 0.71 0 1 0 -1.42 0M498.4 55.4m-0.70 0a0.70 0.70 0 1 0 1.40 0a0.70 0.70 0 1 0 -1.40 0M499.1 54.8m-1.16 0a1.16 1.16 0 1 0 2.31 0a1.16 1.16 0 1 0 -2.31 0M500.9 55.0m-1.09 0a1.09 1.09 0 1 0 2.17 0a1.09 1.09 0 1 0 -2.17 0M500.8 112.2m-0.74 0a0.74 0.74 0 1 0 1.49 0a0.74 0.74 0 1 0 -1.49 0M502.2 112.4m-1.01 0a1.01 1.01 0 1 0 2.01 0a1.01 1.01 0 1 0 -2.01 0M504.5 54.6m-1.07 0a1.07 1.07 0 1 0 2.13 0a1.07 1.07 0 1 0 -2.13 0M506.2 53.3m-0.87 0a0.87 0.87 0 1 0 1.74 0a0.87 0.87 0 1 0 -1.74 0M507.6 113.5m-0.94 0a0.94 0.94 0 1 0 1.88 0a0.94 0.94 0 1 0 -1.88 0M508.4 53.9m-1.12 0a1.12 1.12 0 1 0 2.23 0a1.12 1.12 0 1 0 -2.23 0M508.0 112.7m-1.00 0a1.00 1.00 0 1 0 1.99 0a1.00 1.00 0 1 0 -1.99 0M510.0 112.9m-0.76 0a0.76 0.76 0 1 0 1.52 0a0.76 0.76 0 1 0 -1.52 0" fill="#0a0a0a"/>
<circle cx="347" cy="45.4" r="0.9" fill="#0a0a0a"/><circle cx="347" cy="47.4" r="1.3" fill="#0a0a0a"/><circle cx="347.2" cy="49.8" r="1.7" fill="#0a0a0a"/><circle cx="348.6" cy="51.6" r="1.3" fill="#0a0a0a"/>
<g stroke="#0a0a0a" stroke-width="2.5" fill="none">
<path d="M57.4 259.2 V376.8 H234.4"/>
<path d="M52.8 376.8 H57.4" stroke-width="2.2"/>
<path d="M52.8 347.7 H57.4" stroke-width="2.2"/>
<path d="M52.8 318.6 H57.4" stroke-width="2.2"/>
<path d="M52.8 289.5 H57.4" stroke-width="2.2"/>
<path d="M52.8 260.4 H57.4" stroke-width="2.2"/>
<path d="M69.1 376.8 V381.8"/>
<path d="M92.6 376.8 V381.8"/>
<path d="M116.0 376.8 V381.8"/>
<path d="M139.5 376.8 V381.8"/>
<path d="M162.9 376.8 V381.8"/>
<path d="M186.4 376.8 V381.8"/>
<path d="M209.9 376.8 V381.8"/>
<path d="M233.3 376.8 V381.8"/>
</g>
<text transform="translate(52.8 381.8) scale(0.950 1)" font-size="14.2" text-anchor="end">0.00</text>
<text transform="translate(52.8 352.7) scale(0.950 1)" font-size="14.2" text-anchor="end">0.25</text>
<text transform="translate(52.8 323.6) scale(0.950 1)" font-size="14.2" text-anchor="end">0.50</text>
<text transform="translate(52.8 294.5) scale(0.950 1)" font-size="14.2" text-anchor="end">0.75</text>
<text transform="translate(52.8 265.4) scale(0.950 1)" font-size="14.2" text-anchor="end">1.00</text>
<text transform="translate(69.1 393.6) scale(0.960 1)" font-size="13.6" text-anchor="middle">2</text>
<text transform="translate(92.6 393.6) scale(0.960 1)" font-size="13.6" text-anchor="middle">4</text>
<text transform="translate(116.0 393.6) scale(0.960 1)" font-size="13.6" text-anchor="middle">6</text>
<text transform="translate(139.5 393.6) scale(0.960 1)" font-size="13.6" text-anchor="middle">8</text>
<text transform="translate(162.9 393.6) scale(0.960 1)" font-size="13.6" text-anchor="middle">10</text>
<text transform="translate(186.4 393.6) scale(0.960 1)" font-size="13.6" text-anchor="middle">12</text>
<text transform="translate(209.9 393.6) scale(0.960 1)" font-size="13.6" text-anchor="middle">14</text>
<text transform="translate(233.3 393.6) scale(0.960 1)" font-size="13.6" text-anchor="middle">16</text>
<text x="145.8" y="413.0" font-size="16.4" text-anchor="middle">Time (Min)</text>
<text transform="translate(17.5 313.1) rotate(-90) scale(0.920 1)" font-size="16.8" text-anchor="middle">Relative Flow</text>
<g stroke="#0a0a0a" fill="none" stroke-width="1.6">
<path d="M69.2 275.0 V290.0 M65.3 275.0 H73.1 M65.3 290.0 H73.1"/>
<path d="M80.9 287.5 V307.5 M77.0 287.5 H84.8 M77.0 307.5 H84.8"/>
<path d="M92.5 310.0 V329.0 M88.6 310.0 H96.4 M88.6 329.0 H96.4"/>
<path d="M104.2 331.2 V347.8 M100.3 331.2 H108.1 M100.3 347.8 H108.1"/>
<path d="M115.9 342.5 V360.1 M112.0 342.5 H119.8 M112.0 360.1 H119.8"/>
<path d="M127.5 343.1 V359.5 M123.6 343.1 H131.4 M123.6 359.5 H131.4"/>
<path d="M139.2 344.1 V360.1 M135.3 344.1 H143.1 M135.3 360.1 H143.1"/>
<path d="M150.9 347.8 V359.0 M147.0 347.8 H154.8 M147.0 359.0 H154.8"/>
</g>
<polyline points="69.2,282.5 80.9,297.5 92.5,319.5 104.2,339.5 115.9,351.3 127.5,351.3 139.2,352.1 150.9,353.4 162.5,359.7 174.2,360.4 185.8,360.4 197.5,358.8 209.2,357.9 220.8,357.1" fill="none" stroke="#0a0a0a" stroke-width="2" stroke-linejoin="round"/>
<circle cx="69.2" cy="282.5" r="3.0" fill="none" stroke="#0a0a0a" stroke-width="1.2"/>
<circle cx="80.9" cy="297.5" r="3.0" fill="none" stroke="#0a0a0a" stroke-width="1.2"/>
<circle cx="92.5" cy="319.5" r="3.0" fill="none" stroke="#0a0a0a" stroke-width="1.2"/>
<circle cx="104.2" cy="339.5" r="3.0" fill="none" stroke="#0a0a0a" stroke-width="1.2"/>
<circle cx="115.9" cy="351.3" r="3.0" fill="none" stroke="#0a0a0a" stroke-width="1.2"/>
<circle cx="127.5" cy="351.3" r="3.0" fill="none" stroke="#0a0a0a" stroke-width="1.2"/>
<circle cx="139.2" cy="352.1" r="3.0" fill="none" stroke="#0a0a0a" stroke-width="1.2"/>
<circle cx="150.9" cy="353.4" r="3.0" fill="none" stroke="#0a0a0a" stroke-width="1.2"/>
<circle cx="162.5" cy="359.7" r="3.0" fill="none" stroke="#0a0a0a" stroke-width="1.2"/>
<circle cx="174.2" cy="360.4" r="3.0" fill="none" stroke="#0a0a0a" stroke-width="1.2"/>
<circle cx="185.8" cy="360.4" r="3.0" fill="none" stroke="#0a0a0a" stroke-width="1.2"/>
<circle cx="197.5" cy="358.8" r="3.0" fill="none" stroke="#0a0a0a" stroke-width="1.2"/>
<circle cx="209.2" cy="357.9" r="3.0" fill="none" stroke="#0a0a0a" stroke-width="1.2"/>
<circle cx="220.8" cy="357.1" r="3.0" fill="none" stroke="#0a0a0a" stroke-width="1.2"/>
<g stroke="#0a0a0a" fill="none" stroke-width="1.6">
<path d="M69.2 263.5 V277.5 M65.3 263.5 H73.1 M65.3 277.5 H73.1"/>
<path d="M80.9 272.4 V283.4 M77.0 272.4 H84.8 M77.0 283.4 H84.8"/>
<path d="M92.5 279.1 V294.1 M88.6 279.1 H96.4 M88.6 294.1 H96.4"/>
<path d="M104.2 291.0 V311.0 M100.3 291.0 H108.1 M100.3 311.0 H108.1"/>
<path d="M115.9 298.2 V320.2 M112.0 298.2 H119.8 M112.0 320.2 H119.8"/>
<path d="M127.5 300.5 V321.9 M123.6 300.5 H131.4 M123.6 321.9 H131.4"/>
<path d="M139.2 300.5 V321.9 M135.3 300.5 H143.1 M135.3 321.9 H143.1"/>
<path d="M150.9 302.3 V323.7 M147.0 302.3 H154.8 M147.0 323.7 H154.8"/>
<path d="M162.5 304.2 V327.0 M158.6 304.2 H166.4 M158.6 327.0 H166.4"/>
<path d="M174.2 302.9 V325.5 M170.3 302.9 H178.1 M170.3 325.5 H178.1"/>
<path d="M185.8 302.3 V324.9 M181.9 302.3 H189.8 M181.9 324.9 H189.8"/>
<path d="M197.5 301.6 V326.8 M193.6 301.6 H201.4 M193.6 326.8 H201.4"/>
<path d="M209.2 302.5 V328.7 M205.3 302.5 H213.1 M205.3 328.7 H213.1"/>
<path d="M220.8 296.8 V325.8 M216.9 296.8 H224.7 M216.9 325.8 H224.7"/>
</g>
<polyline points="69.2,270.5 80.9,277.9 92.5,286.6 104.2,301.0 115.9,309.2 127.5,311.2 139.2,311.2 150.9,313.0 162.5,315.6 174.2,314.2 185.8,313.6 197.5,314.2 209.2,315.6 220.8,311.3" fill="none" stroke="#0a0a0a" stroke-width="2" stroke-linejoin="round"/>
<circle cx="69.2" cy="270.5" r="3.4" fill="#0a0a0a"/>
<circle cx="80.9" cy="277.9" r="3.4" fill="#0a0a0a"/>
<circle cx="92.5" cy="286.6" r="3.4" fill="#0a0a0a"/>
<circle cx="104.2" cy="301.0" r="3.4" fill="#0a0a0a"/>
<circle cx="115.9" cy="309.2" r="3.4" fill="#0a0a0a"/>
<circle cx="127.5" cy="311.2" r="3.4" fill="#0a0a0a"/>
<circle cx="139.2" cy="311.2" r="3.4" fill="#0a0a0a"/>
<circle cx="150.9" cy="313.0" r="3.4" fill="#0a0a0a"/>
<circle cx="162.5" cy="315.6" r="3.4" fill="#0a0a0a"/>
<circle cx="174.2" cy="314.2" r="3.4" fill="#0a0a0a"/>
<circle cx="185.8" cy="313.6" r="3.4" fill="#0a0a0a"/>
<circle cx="197.5" cy="314.2" r="3.4" fill="#0a0a0a"/>
<circle cx="209.2" cy="315.6" r="3.4" fill="#0a0a0a"/>
<circle cx="220.8" cy="311.3" r="3.4" fill="#0a0a0a"/>
<path d="M139.3 252.5 H156.3" stroke="#0a0a0a" stroke-width="1.8"/>
<circle cx="147.8" cy="252.5" r="3.4" fill="#0a0a0a"/>
<text x="160.3" y="257.9" font-size="14.4" text-anchor="start">Flox/flox/Cre</text>
<path d="M139.3 268.9 H156.3" stroke="#0a0a0a" stroke-width="1.8"/>
<circle cx="147.8" cy="268.9" r="2.7" fill="none" stroke="#0a0a0a" stroke-width="1.3"/>
<text x="160.3" y="274.3" font-size="14.4" text-anchor="start">Flox/flox</text>
<g stroke="#0a0a0a" stroke-width="2.5" fill="none">
<path d="M336.0 259.0 V377.4 H512.2"/>
<path d="M331.4 377.4 H336.0" stroke-width="2.2"/>
<path d="M331.4 354.0 H336.0" stroke-width="2.2"/>
<path d="M331.4 330.5 H336.0" stroke-width="2.2"/>
<path d="M331.4 307.1 H336.0" stroke-width="2.2"/>
<path d="M331.4 283.6 H336.0" stroke-width="2.2"/>
<path d="M331.4 260.2 H336.0" stroke-width="2.2"/>
<path d="M336.0 377.4 V382.4"/>
<path d="M386.0 377.4 V382.4"/>
<path d="M436.0 377.4 V382.4"/>
<path d="M486.0 377.4 V382.4"/>
</g>
<text transform="translate(331.3 382.3) scale(0.960 1)" font-size="14.0" text-anchor="end">0</text>
<text transform="translate(331.3 358.9) scale(0.960 1)" font-size="14.0" text-anchor="end">20</text>
<text transform="translate(331.3 335.4) scale(0.960 1)" font-size="14.0" text-anchor="end">40</text>
<text transform="translate(331.3 312.0) scale(0.960 1)" font-size="14.0" text-anchor="end">60</text>
<text transform="translate(331.3 288.5) scale(0.960 1)" font-size="14.0" text-anchor="end">80</text>
<text transform="translate(331.3 265.1) scale(0.960 1)" font-size="14.0" text-anchor="end">100</text>
<text x="336.0" y="393.8" font-size="13.6" text-anchor="middle">0</text>
<text x="386.0" y="393.8" font-size="13.6" text-anchor="middle">200</text>
<text x="436.0" y="393.8" font-size="13.6" text-anchor="middle">400</text>
<text x="486.0" y="393.8" font-size="13.6" text-anchor="middle">600</text>
<text x="423.0" y="413.6" font-size="16.4" text-anchor="middle">Time (Sec)</text>
<text x="298.9" y="315.3" font-size="13.3" text-anchor="middle" transform="rotate(-90 298.9 315.3)">% Without Occlusion</text>
<polyline points="336.0,260.5 380.0,269.3 392.2,279.8 393.0,289.3 402.0,299.9 408.5,309.9 410.0,318.5 414.2,328.9 421.0,338.9 422.5,348.4 422.0,358.5 481.5,367.8 495.0,367.8" fill="none" stroke="#0a0a0a" stroke-width="2.1" stroke-linejoin="round"/>
<circle cx="380.0" cy="269.3" r="3.0" fill="none" stroke="#0a0a0a" stroke-width="1.2"/>
<circle cx="392.2" cy="279.8" r="3.0" fill="none" stroke="#0a0a0a" stroke-width="1.2"/>
<circle cx="393.0" cy="289.3" r="3.0" fill="none" stroke="#0a0a0a" stroke-width="1.2"/>
<circle cx="402.0" cy="299.9" r="3.0" fill="none" stroke="#0a0a0a" stroke-width="1.2"/>
<circle cx="408.5" cy="309.9" r="3.0" fill="none" stroke="#0a0a0a" stroke-width="1.2"/>
<circle cx="410.0" cy="318.5" r="3.0" fill="none" stroke="#0a0a0a" stroke-width="1.2"/>
<circle cx="414.2" cy="328.9" r="3.0" fill="none" stroke="#0a0a0a" stroke-width="1.2"/>
<circle cx="421.0" cy="338.9" r="3.0" fill="none" stroke="#0a0a0a" stroke-width="1.2"/>
<circle cx="422.5" cy="348.4" r="3.0" fill="none" stroke="#0a0a0a" stroke-width="1.2"/>
<circle cx="422.0" cy="358.5" r="3.0" fill="none" stroke="#0a0a0a" stroke-width="1.2"/>
<circle cx="481.5" cy="367.8" r="3.0" fill="none" stroke="#0a0a0a" stroke-width="1.2"/>
<circle cx="495.0" cy="367.8" r="3.0" fill="none" stroke="#0a0a0a" stroke-width="1.2"/>
<polyline points="336.0,260.3 388.5,266.7 397.5,274.1 415.8,282.0 432.0,289.3 449.0,296.9 479.8,304.0 495.0,304.0" fill="none" stroke="#0a0a0a" stroke-width="2.1" stroke-linejoin="round"/>
<circle cx="388.5" cy="266.7" r="3.4" fill="#0a0a0a"/>
<circle cx="397.5" cy="274.1" r="3.4" fill="#0a0a0a"/>
<circle cx="415.8" cy="282.0" r="3.4" fill="#0a0a0a"/>
<circle cx="432.0" cy="289.3" r="3.4" fill="#0a0a0a"/>
<circle cx="449.0" cy="296.9" r="3.4" fill="#0a0a0a"/>
<circle cx="479.8" cy="304.0" r="3.4" fill="#0a0a0a"/>
<circle cx="495.0" cy="304.0" r="3.4" fill="#0a0a0a"/>
<path d="M411.8 254.4 H429.0" stroke="#0a0a0a" stroke-width="1.8"/>
<circle cx="420.4" cy="254.4" r="3.4" fill="#0a0a0a"/>
<text x="433.1" y="259.5" font-size="14.4" text-anchor="start">Flox/flox/Cre</text>
<path d="M411.8 270.7 H429.0" stroke="#0a0a0a" stroke-width="1.8"/>
<circle cx="420.4" cy="270.7" r="2.7" fill="none" stroke="#0a0a0a" stroke-width="1.3"/>
<text x="433.1" y="275.8" font-size="14.4" text-anchor="start">Flox/flox</text>
</svg></body></html>
